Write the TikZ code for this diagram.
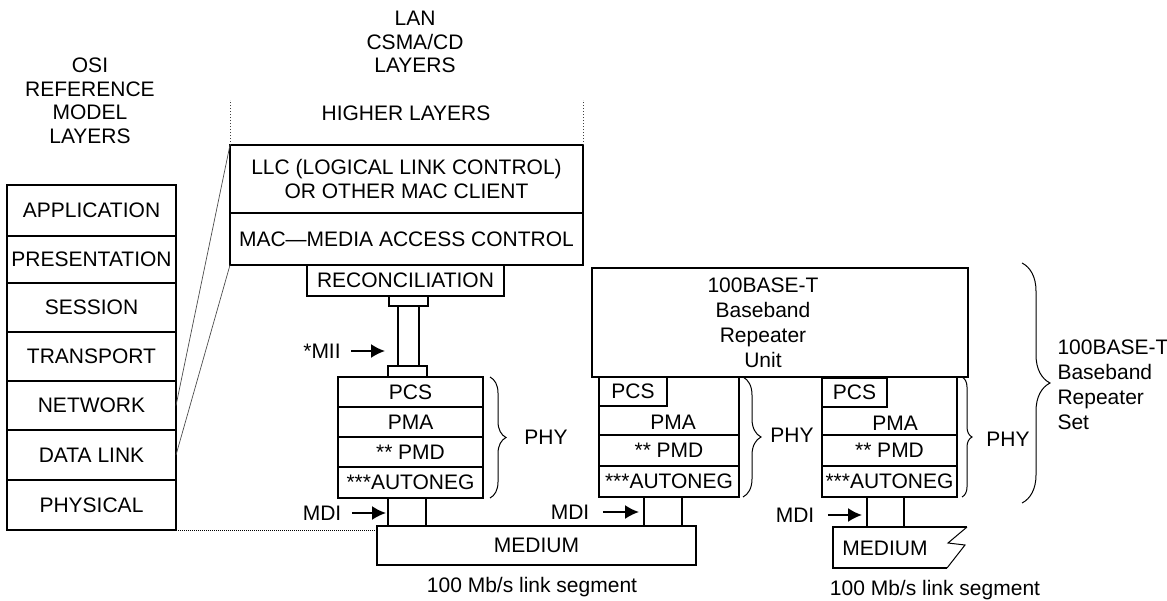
\documentclass[tikz,border=0pt]{standalone}
\usepackage{fontspec}
\setmainfont{Liberation Sans}
\usetikzlibrary{arrows.meta,decorations.pathreplacing}

\tikzset{
  lay/.style={draw, line width=1.8pt, inner sep=0pt, outer sep=0pt, anchor=north west},
  arr/.style={line width=1.8pt, -{Latex[length=14pt,width=14pt]}},
  phybrace/.style={decorate, decoration={brace, amplitude=#1}, line width=1pt},
  thinline/.style={gray!60!black, line width=0.7pt},
}

\begin{document}
\begin{tikzpicture}[x=1pt, y=-1pt, font=\fontsize{21pt}{23.5pt}\selectfont]
                \useasboundingbox (0,0) rectangle (1167,600);
                % OSI stack
                \node[align=center] (ositxt) at (90,101) {OSI\\REFERENCE\\MODEL\\LAYERS};
                \node[lay, minimum width=169pt, minimum height=51pt] (app) at (7,185) {APPLICATION};
                \node[lay, minimum width=169pt, minimum height=47pt] (pres) at (7,236) {PRESENTATION};
                \node[lay, minimum width=169pt, minimum height=49pt] (sess) at (7,283) {SESSION};
                \node[lay, minimum width=169pt, minimum height=49pt] (trans) at (7,332) {TRANSPORT};
                \node[lay, minimum width=169pt, minimum height=49pt] (net) at (7,381) {NETWORK};
                \node[lay, minimum width=169pt, minimum height=50pt] (dlink) at (7,430) {DATA LINK};
                \node[lay, minimum width=169pt, minimum height=50pt] (phys) at (7,480) {PHYSICAL};
                % LAN layers
                \node[align=center] (lantxt) at (415,42) {LAN\\CSMA/CD\\LAYERS};
                \node (higher) at (406,113) {HIGHER LAYERS};
                \node[lay, minimum width=353pt, minimum height=68pt, align=center] (llc) at (230,145) {LLC (LOGICAL LINK CONTROL)\\OR OTHER MAC CLIENT};
                \node[lay, minimum width=353pt, minimum height=52pt] (mac) at (230,213) {MAC—MEDIA ACCESS CONTROL};
                \node[lay, minimum width=197pt, minimum height=31pt] (recon) at (307,265) {RECONCILIATION};
                \draw[dotted, gray!50!black, line width=1pt] (llc.north west) -- ++(0,-45);
                \draw[dotted, gray!50!black, line width=1pt] (llc.north east) -- ++(0,-45);
                \draw[thinline] (net.east) -- (llc.north west);
                \draw[thinline] (dlink.east) -- (mac.south west);
                % MII
                \node[lay, minimum width=39pt, minimum height=10pt] (miitop) at (389,296) {};
                \node[lay, minimum width=21pt, minimum height=60pt] (miipipe) at (398,306) {};
                \node[lay, minimum width=39pt, minimum height=11pt] (miibot) at (388,366) {};
                \node (mii) at (322,351) {*MII};
                \draw[arr] ([xshift=7pt]mii.east) -- ([xshift=-13pt]mii.east -| miipipe.west);
                % PHY of the station
                \node[lay, minimum width=145pt, minimum height=30pt] (pcsa) at (338,377) {PCS};
                \node[lay, minimum width=145pt, minimum height=30pt] (pmaa) at (338,407) {PMA};
                \node[lay, minimum width=145pt, minimum height=30pt] (pmda) at (338,437) {** PMD};
                \node[lay, minimum width=145pt, minimum height=31pt] (ana) at (338,467) {***AUTONEG};
                \draw[phybrace=16pt] ([xshift=7pt]pcsa.north east) -- ([xshift=7pt]ana.south east);
                \node (phya) at (546,437) {PHY};
                \node[lay, minimum width=38pt, minimum height=28pt] (mdia) at (388,498) {};
                \node (mdiatxt) at (322,513) {MDI};
                \draw[arr] ([xshift=7pt]mdiatxt.east) -- ([xshift=-2pt]mdiatxt.east -| mdia.west);
                \node[lay, minimum width=319pt, minimum height=39pt] (medium) at (377,526) {MEDIUM};
                \draw[densely dotted, line width=1pt] (phys.south east) -- (phys.south east -| medium.west);
                \node (sega) at (532,587) {100 Mb/s link segment};
                % repeater unit
                \node[lay, minimum width=376pt, minimum height=109pt] (unit) at (592,268) {};
                \node[align=center, font=\fontsize{21pt}{25pt}\selectfont] (unittxt) at (763,322.5) {100BASE-T\\Baseband\\Repeater\\Unit};
                % repeater PHY, left
                \node[lay, minimum width=140pt, minimum height=120pt] (colb) at (599,377) {};
                \node[lay, minimum width=68pt, minimum height=29pt] (pcsb) at (599,377) {PCS};
                \node (pmab) at (673,422) {PMA};
                \node[lay, minimum width=140pt, minimum height=31pt] (pmdb) at (599,435) {** PMD};
                \node[lay, minimum width=140pt, minimum height=31pt] (anb) at (599,466) {***AUTONEG};
                \draw[phybrace=18pt] ([xshift=4pt]colb.north east) -- ([xshift=4pt]colb.south east);
                \node (phyb) at (792,435) {PHY};
                \node[lay, minimum width=38pt, minimum height=29pt] (mdib) at (644,497) {};
                \node (mdibtxt) at (570,512) {MDI};
                \draw[arr] ([xshift=10pt]mdibtxt.east) -- ([xshift=-5pt]mdibtxt.east -| mdib.west);
                % repeater PHY, right
                \node[lay, minimum width=135pt, minimum height=120pt] (colc) at (822,377) {};
                \node[lay, minimum width=65pt, minimum height=29pt] (pcsc) at (822,378) {PCS};
                \node (pmac) at (895,423) {PMA};
                \node[lay, minimum width=135pt, minimum height=31pt] (pmdc) at (822,435) {** PMD};
                \node[lay, minimum width=135pt, minimum height=31pt] (anc) at (822,466) {***AUTONEG};
                \draw[phybrace=10pt] ([xshift=5pt]colc.north east) -- ([xshift=5pt]colc.south east);
                \node (phyc) at (1008,439) {PHY};
                \node[lay, minimum width=37pt, minimum height=30pt] (mdic) at (867,497) {};
                \node (mdictxt) at (795,515) {MDI};
                \draw[arr] ([xshift=10pt]mdictxt.east) -- ([xshift=-5pt]mdictxt.east -| mdic.west);
                \draw[line width=1.8pt] (967,527) -- (833,527) -- (833,568) -- (947,568);
                \draw[line width=1pt] (967,527) -- (948,543) -- (965,545) -- (947,568);
                \node (medc) at (885,548) {MEDIUM};
                \node (segc) at (935,590) {100 Mb/s link segment};
                % repeater set
                \draw[phybrace=28pt] (1022,263) -- (1022,503);
                \node[align=left, anchor=west, font=\fontsize{21pt}{25pt}\selectfont] (settxt) at (1054,385) {100BASE-T\\Baseband\\Repeater\\Set};
            \end{tikzpicture}
\end{document}
